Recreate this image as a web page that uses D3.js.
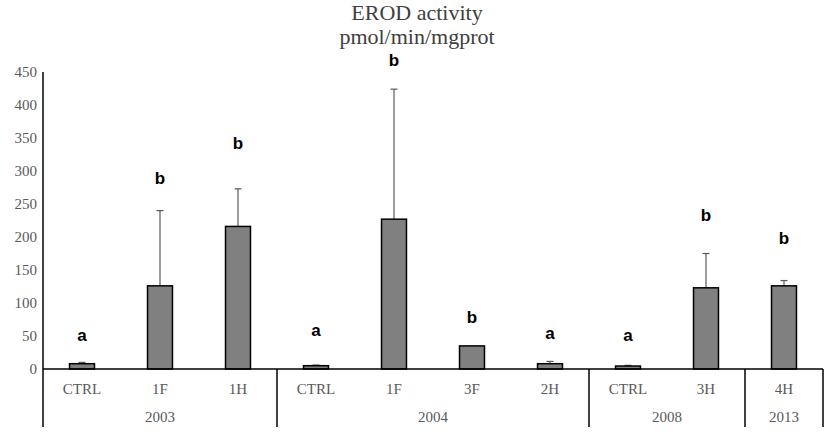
<!DOCTYPE html>
<html>
<head>
<meta charset="utf-8">
<script src="https://cdn.jsdelivr.net/npm/d3@7"></script>
<style>
  body { margin: 0; background: #fff; }
  svg { display: block; }
</style>
</head>
<body>
<div id="chart"></div>
<script>
// data
var years = ["2003", "2003", "2003", "2004", "2004", "2004", "2004", "2008", "2008", "2013"];
var groups = ["CTRL", "1F", "1H", "CTRL", "1F", "3F", "2H", "CTRL", "3H", "4H"];
var means = [8, 126, 216, 5, 227, 35, 8, 4.5, 123, 126];
var errors = [2, 114, 57, 1, 197, 0, 3.5, 1, 52, 8];
var letters = ["a", "b", "b", "a", "b", "b", "a", "a", "b", "b"];
var letterAt = [51, 289, 342, 59, 468, 79, 55, 51, 233, 199];
var yTicks = [0, 50, 100, 150, 200, 250, 300, 350, 400, 450];

var svgWidth = 829;
var svgHeight = 432;

var margin = { top: 72, right: 6, bottom: 63, left: 43 };
var width = svgWidth - margin.left - margin.right;
var height = svgHeight - margin.top - margin.bottom;

var svg = d3.select("#chart")
  .append("svg")
  .attr("width", svgWidth)
  .attr("height", svgHeight);

var chartGroup = svg.append("g")
  .attr("transform", `translate(${margin.left}, ${margin.top})`);

var keys = groups.map((g, i) => i);

var xScale = d3.scaleBand()
  .domain(keys)
  .range([0, width]);

var yScale = d3.scaleLinear()
  .domain([0, 450])
  .range([height, 0]);

var barW = xScale.bandwidth() * 0.32;

// y axis labels (no ticks)
var leftAxis = d3.axisLeft(yScale).tickValues(yTicks).tickSize(0).tickPadding(6);
var yAxisG = chartGroup.append("g").call(leftAxis);
yAxisG.select(".domain").remove();
yAxisG.selectAll("text")
  .attr("font-family", "'Liberation Serif', 'Times New Roman', serif")
  .attr("font-size", 15)
  .attr("fill", "#595959");

// title
svg.append("text")
  .attr("x", 417)
  .attr("y", 20)
  .attr("text-anchor", "middle")
  .attr("font-family", "'Liberation Serif', 'Times New Roman', serif")
  .attr("font-size", 22)
  .attr("fill", "#404040")
  .text("EROD activity");
svg.append("text")
  .attr("x", 417)
  .attr("y", 44)
  .attr("text-anchor", "middle")
  .attr("font-family", "'Liberation Serif', 'Times New Roman', serif")
  .attr("font-size", 22)
  .attr("fill", "#404040")
  .text("pmol/min/mgprot");

// error bars
var errG = chartGroup.append("g").attr("stroke", "#595959").attr("stroke-width", 1.2);
keys.forEach(function(i) {
  if (!errors[i]) return;
  var cx = xScale(i) + xScale.bandwidth() / 2;
  errG.append("line")
    .attr("x1", cx).attr("x2", cx)
    .attr("y1", yScale(means[i])).attr("y2", yScale(means[i] + errors[i]));
  errG.append("line")
    .attr("x1", cx - 3.5).attr("x2", cx + 3.5)
    .attr("y1", yScale(means[i] + errors[i])).attr("y2", yScale(means[i] + errors[i]));
});

// bars
chartGroup.selectAll("rect.bar")
  .data(keys)
  .enter()
  .append("rect")
  .attr("class", "bar")
  .attr("x", i => xScale(i) + (xScale.bandwidth() - barW) / 2)
  .attr("y", i => yScale(means[i]))
  .attr("width", barW)
  .attr("height", i => height - yScale(means[i]))
  .attr("fill", "#808080")
  .attr("stroke", "#000")
  .attr("stroke-width", 1.5);

// significance letters
chartGroup.selectAll("text.sig")
  .data(keys)
  .enter()
  .append("text")
  .attr("class", "sig")
  .attr("x", i => xScale(i) + xScale.bandwidth() / 2)
  .attr("y", i => yScale(letterAt[i]))
  .attr("dy", "0.35em")
  .attr("text-anchor", "middle")
  .attr("font-family", "'Liberation Sans', Arial, sans-serif")
  .attr("font-weight", "bold")
  .attr("font-size", 17)
  .attr("fill", "#000")
  .text(i => letters[i]);

// baseline and y axis line
var axisBottomY = height + 58;
chartGroup.append("line")
  .attr("x1", 0).attr("x2", width)
  .attr("y1", height).attr("y2", height)
  .attr("stroke", "#000").attr("stroke-width", 1.5);
chartGroup.append("line")
  .attr("x1", 0).attr("x2", 0)
  .attr("y1", 0).attr("y2", axisBottomY)
  .attr("stroke", "#000").attr("stroke-width", 1.5);

// category labels
chartGroup.selectAll("text.cat")
  .data(keys)
  .enter()
  .append("text")
  .attr("class", "cat")
  .attr("x", i => xScale(i) + xScale.bandwidth() / 2)
  .attr("y", height + 25)
  .attr("text-anchor", "middle")
  .attr("font-family", "'Liberation Serif', 'Times New Roman', serif")
  .attr("font-size", 15)
  .attr("fill", "#595959")
  .text(i => groups[i]);

// year groups
var yearList = Array.from(new Set(years));
yearList.forEach(function(yr) {
  var idx = keys.filter(i => years[i] === yr);
  var x0 = xScale(idx[0]);
  var x1 = xScale(idx[idx.length - 1]) + xScale.bandwidth();
  chartGroup.append("text")
    .attr("x", (x0 + x1) / 2)
    .attr("y", height + 53)
    .attr("text-anchor", "middle")
    .attr("font-family", "'Liberation Serif', 'Times New Roman', serif")
    .attr("font-size", 15)
    .attr("fill", "#595959")
    .text(yr);
  chartGroup.append("line")
    .attr("x1", x1).attr("x2", x1)
    .attr("y1", height).attr("y2", axisBottomY)
    .attr("stroke", "#000").attr("stroke-width", 1.5);
});
</script>
</body>
</html>
